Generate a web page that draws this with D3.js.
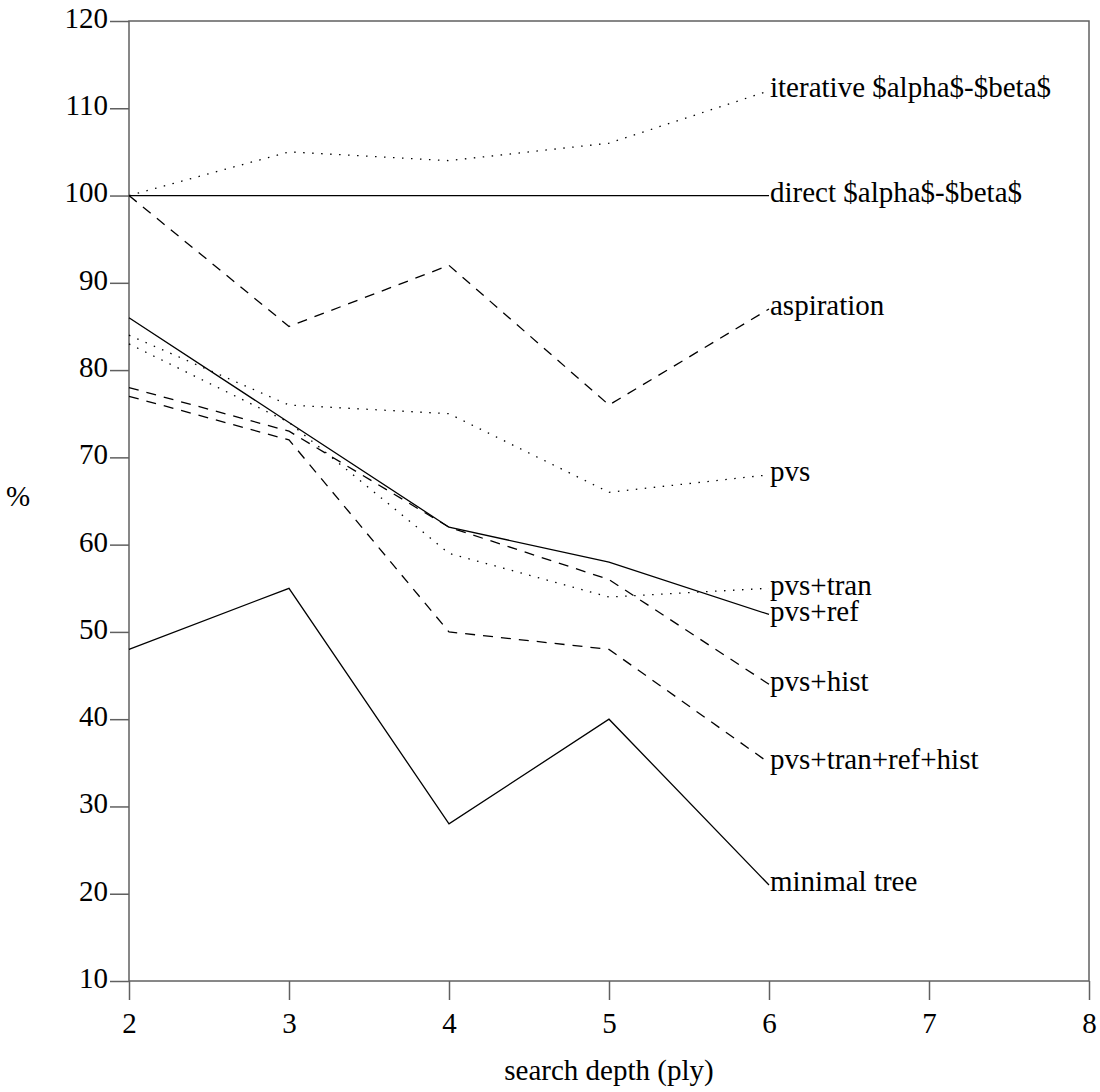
<!DOCTYPE html>
<html>
<head>
<meta charset="utf-8">
<script src="https://cdn.jsdelivr.net/npm/d3@7"></script>
<style>
  body { margin: 0; background: #fff; }
  svg text { font-family: "Times New Roman", "Liberation Serif", Times, serif !important; fill: #000; }
</style>
</head>
<body>
<div id="chart"></div>
<script>
const depths = [2, 3, 4, 5, 6];
const xTicks = [2, 3, 4, 5, 6, 7, 8];
const yTicks = [10, 20, 30, 40, 50, 60, 70, 80, 90, 100, 110, 120];

const seriesNames = ["iterative $alpha$-$beta$", "direct $alpha$-$beta$", "aspiration", "pvs",
  "pvs+tran", "pvs+ref", "pvs+hist", "pvs+tran+ref+hist", "minimal tree"];
const seriesStyles = ["dotted", "solid", "dashed", "dotted", "dotted", "solid", "dashed", "dashed", "solid"];

const iterative = [100, 105, 104, 106, 112];
const direct = [100, 100, 100, 100, 100];
const aspiration = [100, 85, 92, 76, 87];
const pvs = [84, 76, 75, 66, 68];
const pvsTran = [83, 74, 59, 54, 55];
const pvsRef = [86, 74, 62, 58, 52];
const pvsHist = [78, 73, 62, 56, 44];
const pvsAll = [77, 72, 50, 48, 35];
const minimalTree = [48, 55, 28, 40, 21];

const seriesValues = [iterative, direct, aspiration, pvs, pvsTran, pvsRef, pvsHist, pvsAll, minimalTree];

const W = 1100, H = 1092;
const margin = { top: 21, right: 11, bottom: 111, left: 129 };
const width = W - margin.left - margin.right;
const height = H - margin.top - margin.bottom;
const fontSize = "29px";

const svg = d3.select("#chart").append("svg")
    .attr("width", W)
    .attr("height", H);

const g = svg.append("g")
    .attr("transform", `translate(${margin.left},${margin.top})`);

const x = d3.scaleLinear().domain([2, 8]).range([0, width]);
const y = d3.scaleLinear().domain([10, 120]).range([height, 0]);

const axisColor = "#606060";

// frame
g.append("rect")
    .attr("x", 0).attr("y", 0)
    .attr("width", width).attr("height", height)
    .attr("fill", "none")
    .attr("stroke", axisColor)
    .attr("stroke-width", 1.5);

const xAxis = g.append("g")
    .attr("transform", `translate(0,${height})`)
    .call(d3.axisBottom(x).tickValues(xTicks).tickSize(19).tickPadding(12).tickFormat(d3.format("d")));

const yAxis = g.append("g")
    .call(d3.axisLeft(y).tickValues(yTicks).tickSize(19).tickPadding(2).tickFormat(d3.format("d")));

[xAxis, yAxis].forEach(a => {
  a.attr("font-family", null).attr("font-size", null);
  a.select(".domain").remove();
  a.selectAll("line").attr("stroke", axisColor).attr("stroke-width", 1.5);
  a.selectAll("text").style("font-size", fontSize).attr("fill", "#000");
});
yAxis.selectAll("text").attr("dy", "0.22em");
xAxis.selectAll("text").attr("dy", "0.71em");

const dash = { solid: null, dashed: "10,8", dotted: "1.5,7.5" };

const line = d3.line()
    .x((d, i) => x(depths[i]))
    .y(d => y(d));

seriesValues.forEach((vals, k) => {
  g.append("path")
      .datum(vals)
      .attr("d", line)
      .attr("fill", "none")
      .attr("stroke", "#000")
      .attr("stroke-width", 1.3)
      .attr("stroke-dasharray", dash[seriesStyles[k]]);

  g.append("text")
      .attr("x", x(depths[depths.length - 1]) + 1)
      .attr("y", y(vals[vals.length - 1]))
      .attr("dy", "0.22em")
      .style("font-size", fontSize)
      .text(seriesNames[k]);
});

svg.append("text")
    .attr("x", 18)
    .attr("y", 506)
    .attr("text-anchor", "middle")
    .style("font-size", fontSize)
    .text("%");

svg.append("text")
    .attr("x", margin.left + width / 2)
    .attr("y", 1080)
    .attr("text-anchor", "middle")
    .style("font-size", fontSize)
    .text("search depth (ply)");
</script>
</body>
</html>
